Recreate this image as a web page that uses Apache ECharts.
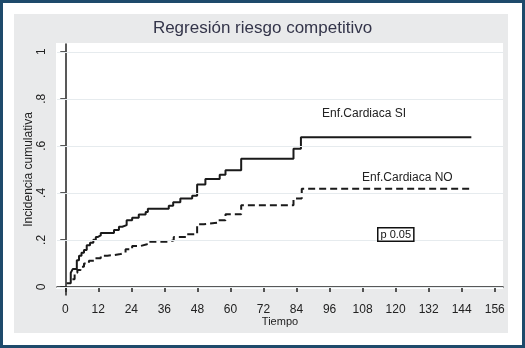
<!DOCTYPE html>
<html>
<head>
<meta charset="utf-8">
<script src="https://cdn.jsdelivr.net/npm/echarts@6/dist/echarts.min.js"></script>
<style>
  html, body { margin: 0; padding: 0; background: #fff; }
  #chart { width: 525px; height: 348px; }
</style>
</head>
<body>
<div id="chart"></div>
<script>
// ejes
var xTicks = [0, 12, 24, 36, 48, 60, 72, 84, 96, 108, 120, 132, 144, 156];
var yTicks = [0, 0.2, 0.4, 0.6, 0.8, 1];

// Enf.Cardiaca SI (linea continua)
var siTime  = [0.5, 2.0, 2.7, 4.2, 5.0, 5.9, 6.8, 7.8, 9.0, 10.2, 11.1, 11.9, 12.9, 17.7, 19.5, 20.7, 22.3, 24.3, 26.7, 29.2, 30.0, 37.6, 39.2, 41.8, 46.1, 47.9, 50.9, 56.1, 58.2, 63.9, 82.9, 85.6, 147.5];
var siValue = [0.016, 0.061, 0.076, 0.114, 0.133, 0.146, 0.157, 0.177, 0.188, 0.201, 0.213, 0.219, 0.230, 0.242, 0.256, 0.263, 0.284, 0.294, 0.308, 0.319, 0.333, 0.345, 0.360, 0.376, 0.388, 0.436, 0.459, 0.477, 0.496, 0.545, 0.588, 0.637, 0.637];

// Enf.Cardiaca NO (linea discontinua)
var noTime  = [2.6, 3.4, 4.4, 5.6, 6.8, 8.6, 10.4, 12.9, 15.3, 17.7, 20.1, 21.9, 24.3, 27.3, 29.7, 37.6, 39.4, 44.2, 47.9, 50.3, 55.7, 58.2, 63.9, 82.9, 85.9, 147.5];
var noValue = [0.033, 0.061, 0.072, 0.086, 0.100, 0.112, 0.122, 0.133, 0.136, 0.140, 0.146, 0.160, 0.174, 0.182, 0.192, 0.199, 0.213, 0.224, 0.267, 0.274, 0.284, 0.309, 0.347, 0.376, 0.418, 0.418];

function pairs(t, v) {
    return t.map(function (x, i) { return [x, v[i]]; });
}

var myChart = echarts.init(document.getElementById('chart'));

var option = {
    backgroundColor: '#ffffff',
    animation: false,
    title: {
        text: 'Regresión riesgo competitivo',
        left: 'center',
        top: 15,
        textStyle: {
            fontFamily: 'Liberation Sans',
            fontSize: 17,
            fontWeight: 'normal',
            color: '#34354a'
        }
    },
    grid: {
        left: 57,
        right: 22,
        top: 44,
        bottom: 53
    },
    graphic: [
        { type: 'rect', z: -10, shape: { x: 1.5, y: 1.5, width: 522, height: 345 },
          style: { fill: '#ffffff', stroke: '#1e4a6b', lineWidth: 3 } },
        { type: 'rect', z: -9, shape: { x: 14, y: 14, width: 494, height: 319 },
          style: { fill: '#e9eaeb' } },
        { type: 'rect', z: -8, shape: { x: 56, y: 43, width: 447, height: 246 },
          style: { fill: '#ffffff' } },
        { type: 'text', z: 100, left: 322, top: 108,
          style: { text: 'Enf.Cardiaca SI', font: '12px "Liberation Sans"', fill: '#222' } },
        { type: 'text', z: 100, left: 362, top: 172,
          style: { text: 'Enf.Cardiaca NO', font: '12px "Liberation Sans"', fill: '#222' } },
        { type: 'text', z: 100, left: 377, top: 227,
          style: { text: 'p 0.05', font: '11px "Liberation Sans"', fill: '#111',
                   backgroundColor: '#ffffff', borderColor: '#111', borderWidth: 1.5,
                   padding: [1, 2, 0, 2] } }
    ],
    xAxis: {
        type: 'value',
        min: -3,
        max: 159,
        name: 'Tiempo',
        nameLocation: 'middle',
        nameGap: 21,
        nameMoveOverlap: false,
        nameTextStyle: { fontFamily: 'Liberation Sans', fontSize: 11, color: '#222' },
        axisLine: { show: true, lineStyle: { color: '#222', width: 1.5 } },
        axisTick: { show: true, customValues: xTicks, length: 5, lineStyle: { color: '#222', width: 1.5 } },
        axisLabel: { customValues: xTicks, margin: 9, fontFamily: 'Liberation Sans', fontSize: 12, color: '#222' },
        splitLine: { show: false }
    },
    yAxis: {
        type: 'value',
        min: -0.034,
        max: 1.033,
        name: 'Incidencia cumulativa',
        nameLocation: 'middle',
        nameGap: 22,
        nameMoveOverlap: false,
        nameTextStyle: { fontFamily: 'Liberation Sans', fontSize: 12, color: '#222' },
        axisLine: { show: true, lineStyle: { color: '#222', width: 1.5 } },
        axisTick: { show: true, customValues: yTicks, length: 5, lineStyle: { color: '#222', width: 1.5 } },
        axisLabel: {
            customValues: yTicks,
            rotate: 90,
            margin: 9,
            fontFamily: 'Liberation Sans',
            fontSize: 12,
            color: '#222',
            formatter: function (v) {
                if (v === 0) return '0';
                if (v === 1) return '1';
                return String(Math.round(v * 10) / 10).replace(/^0/, '');
            }
        },
        splitLine: { show: false }
    },
    series: [
        {
            name: 'rejilla',
            type: 'line',
            data: [],
            z: 1,
            silent: true,
            markLine: {
                silent: true,
                symbol: 'none',
                label: { show: false },
                lineStyle: { color: '#e6ebee', width: 1, type: 'solid' },
                data: yTicks.map(function (v) { return { yAxis: v }; })
            }
        },
        {
            name: 'Enf.Cardiaca SI',
            type: 'line',
            step: 'end',
            symbol: 'none',
            z: 3,
            data: pairs(siTime, siValue),
            lineStyle: { color: '#1a1a1a', width: 2 }
        },
        {
            name: 'Enf.Cardiaca NO',
            type: 'line',
            step: 'end',
            symbol: 'none',
            z: 3,
            data: pairs(noTime, noValue),
            lineStyle: { color: '#1a1a1a', width: 2, type: [7, 4] }
        }
    ]
};

myChart.setOption(option);
</script>
</body>
</html>
